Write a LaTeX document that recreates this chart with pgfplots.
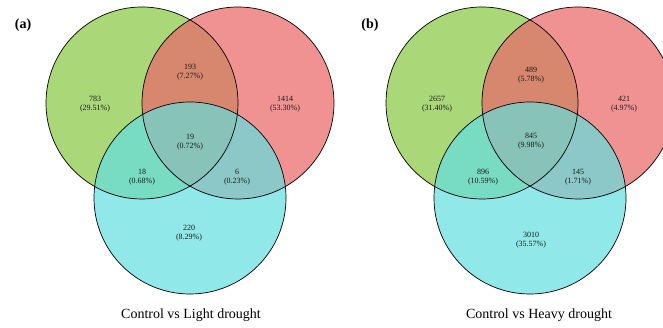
\documentclass[border=0pt]{standalone}
\usepackage{pgfplots}
\pgfplotsset{compat=1.18}
\usepackage{fontspec}
\setmainfont{Liberation Serif}

\definecolor{gfill}{HTML}{AAD778}
\definecolor{rfill}{HTML}{F09292}
\definecolor{cfill}{HTML}{91E8E8}
\definecolor{grfill}{HTML}{D6876E}
\definecolor{gcfill}{HTML}{78DCC3}
\definecolor{rcfill}{HTML}{8CC8C8}
\definecolor{grcfill}{HTML}{87C3B9}

\tikzset{
  cnt/.style={align=center, font=\fontsize{8}{9.2}\selectfont, text=black!90, inner sep=0pt},
  captxt/.style={font=\fontsize{14}{16}\selectfont, text=black},
  tagtxt/.style={font=\fontsize{14}{16}\selectfont\bfseries, text=black},
}

% one three-set Venn panel; #1 = horizontal offset
\newcommand\vennpanel[1]{%
  \fill[gfill] (axis cs:142+#1,225) circle [radius=96];
  \fill[rfill] (axis cs:238+#1,225) circle [radius=96];
  \fill[cfill] (axis cs:190+#1,130) circle [radius=96];
  \begin{scope}
    \clip (axis cs:142+#1,225) circle [radius=96];
    \fill[grfill] (axis cs:238+#1,225) circle [radius=96];
    \fill[gcfill] (axis cs:190+#1,130) circle [radius=96];
    \clip (axis cs:238+#1,225) circle [radius=96];
    \fill[grcfill] (axis cs:190+#1,130) circle [radius=96];
  \end{scope}
  \begin{scope}
    \clip (axis cs:238+#1,225) circle [radius=96];
    \clip (axis cs:190+#1,130) circle [radius=96];
    \fill[rcfill] (axis cs:190+#1,130) circle [radius=96];
    \clip (axis cs:142+#1,225) circle [radius=96];
    \fill[grcfill] (axis cs:190+#1,130) circle [radius=96];
  \end{scope}
  \draw[black, line width=0.7pt] (axis cs:142+#1,225) circle [radius=96];
  \draw[black, line width=0.7pt] (axis cs:238+#1,225) circle [radius=96];
  \draw[black, line width=0.7pt] (axis cs:190+#1,130) circle [radius=96];
}

\begin{document}
\begin{tikzpicture}
\begin{axis}[
  name=ax,
  width=663pt, height=328pt, scale only axis,
  xmin=0, xmax=663, ymin=0, ymax=328,
  axis lines=none, clip=true,
]
\vennpanel{0}
\vennpanel{340}

% panel (a): Control vs Light drought
\node[cnt] at (axis cs:95,224)    {783\\(29.51\%)};
\node[cnt] at (axis cs:190,256)   {193\\(7.27\%)};
\node[cnt] at (axis cs:285,224)   {1414\\(53.30\%)};
\node[cnt] at (axis cs:190,186)   {19\\(0.72\%)};
\node[cnt] at (axis cs:142,151)   {18\\(0.68\%)};
\node[cnt] at (axis cs:237,151)   {6\\(0.23\%)};
\node[cnt] at (axis cs:189,94.5)  {220\\(8.29\%)};
\node[captxt] at (axis cs:191,13) {Control vs Light drought};
\node[tagtxt] at (axis cs:23,303) {(a)};

% panel (b): Control vs Heavy drought
\node[cnt] at (axis cs:437,224)   {2657\\(31.40\%)};
\node[cnt] at (axis cs:531,253)   {489\\(5.78\%)};
\node[cnt] at (axis cs:624,224)   {421\\(4.97\%)};
\node[cnt] at (axis cs:531,187)   {845\\(9.98\%)};
\node[cnt] at (axis cs:483,151)   {896\\(10.59\%)};
\node[cnt] at (axis cs:578,151)   {145\\(1.71\%)};
\node[cnt] at (axis cs:531,88)    {3010\\(35.57\%)};
\node[captxt] at (axis cs:539,13) {Control vs Heavy drought};
\node[tagtxt] at (axis cs:370,303) {(b)};
\end{axis}
% the page is the plotting area; the clipped right circle must not widen it
\pgfresetboundingbox
\path[use as bounding box] (ax.south west) rectangle (ax.north east);
\end{tikzpicture}
\end{document}
